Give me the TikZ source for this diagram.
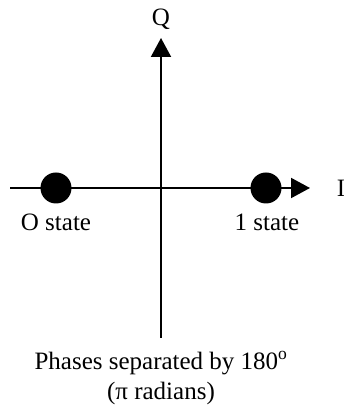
\documentclass[tikz,border=0pt]{standalone}
\usepackage{fontspec}
\setmainfont{Liberation Serif}
\usetikzlibrary{arrows.meta}

\begin{document}
\begin{tikzpicture}[
          x=1pt, y=1pt,
          % Base text style
          every node/.style={font=\fontsize{25}{30}\selectfont, inner sep=0pt},
          % Axis and constellation point styles
          axis/.style={line width=2pt, -{Triangle[length=19pt, width=20pt]}},
          symbolpt/.style={circle, fill=black, minimum size=31pt, inner sep=0pt},
          caption/.style={align=center}
        ]
          \useasboundingbox (0,0) rectangle (344,409);

          % ==========================================
          % 1. Axes
          % ==========================================
          \coordinate (q_start) at (161,71);
          \coordinate (q_end) at (161,371);
          \coordinate (i_start) at (10,221);
          \coordinate (i_end) at (310,221);

          \draw[axis] (q_start) -- (q_end);
          \draw[axis] (i_start) -- (i_end);

          \node (q_label) at (161,390) {Q};
          \node (i_label) at (341,221) {I};

          % ==========================================
          % 2. Constellation points
          % ==========================================
          \node[symbolpt] (zero_pt) at (56,221) {};
          \node[symbolpt] (one_pt) at (266,221) {};

          \node (zero_label) at (56,187) {O state};
          \node (one_label) at (267,187) {1 state};

          % ==========================================
          % 3. Caption
          % ==========================================
          \node[caption] (phase_note) at (161,31) {Phases separated by 180\textsuperscript{o}\\(π radians)};
        \end{tikzpicture}
\end{document}
